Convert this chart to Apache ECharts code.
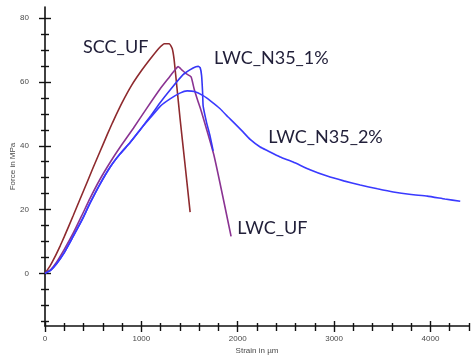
<!DOCTYPE html>
<html>
<head>
<meta charset="utf-8">
<script src="https://cdn.jsdelivr.net/npm/echarts@6/dist/echarts.min.js"></script>
<style>
  html, body { margin: 0; padding: 0; background: #fff; }
  #chart { width: 472px; height: 358px; }
</style>
</head>
<body>
<div id="chart"></div>
<script>
// Force-strain curves, [strain in µm, force in MPa]
const sccUF = [
  [0, 0], [50, 2.2], [100, 5], [160, 8.8], [200, 11.5], [291, 18], [360, 23],
  [436, 28.5], [500, 33.2], [571, 38.2], [650, 43.8], [700, 47.2], [800, 53.5],
  [900, 59], [1000, 63.5], [1100, 67.5], [1180, 70.5], [1240, 72], [1290, 72],
  [1320, 70.5], [1340, 67], [1370, 58], [1402, 48.4], [1450, 35], [1506, 19.2]
];
const lwcUF = [
  [0, 0], [60, 1.2], [120, 3.5], [200, 7.5], [291, 12.5], [380, 18], [467, 23.5],
  [571, 29.5], [680, 35], [789, 40], [917, 45.5], [1050, 51.5], [1194, 57.8],
  [1290, 61.5], [1350, 63.8], [1381, 64.8], [1420, 63.8], [1464, 62.6], [1516, 61.6],
  [1547, 57.9], [1589, 53.8], [1620, 51], [1755, 36.8], [1931, 11.6]
];
const lwcN35_1 = [
  [0, 0], [60, 1], [120, 3], [200, 6.5], [291, 11.5], [380, 16.5], [467, 22],
  [571, 28], [680, 33.5], [780, 37.5], [883, 41], [1000, 45.5], [1100, 49.5],
  [1194, 53.5], [1298, 57.5], [1433, 62.3], [1537, 64.4], [1590, 64.9], [1610, 64.5],
  [1625, 62], [1635, 57], [1641, 52.5], [1675, 47.5], [1713, 43], [1745, 38.4]
];
const lwcN35_2 = [
  [0, 0], [60, 1], [120, 3], [200, 6.5], [291, 11.5], [380, 16.5], [467, 22],
  [571, 28], [680, 33.5], [780, 37.5], [883, 41], [1000, 45.5], [1100, 49],
  [1200, 52.5], [1298, 54.7], [1400, 56.5], [1475, 57.2], [1550, 57], [1641, 55.7],
  [1720, 54], [1817, 51.6], [1900, 49], [1952, 47.5], [2050, 44.5], [2129, 42],
  [2233, 39.6], [2305, 38.5], [2440, 36.5], [2575, 34.9], [2750, 32.5], [2928, 30.5],
  [3100, 29], [3271, 27.7], [3450, 26.5], [3614, 25.5], [3800, 24.7], [3967, 24.2],
  [4150, 23.3], [4309, 22.6]
];

// Curve names and where each name is written, [strain, force] of its left edge
const curveNames = ['SCC_UF', 'LWC_UF', 'LWC_N35_1%', 'LWC_N35_2%'];
const nameAnchors = [[395, 70.8], [1994, 14.2], [1755, 67.6], [2316, 42.8]];

// Axis ranges and tick values
const xRange = [0, 4400];
const yRange = [-16.5, 83.5];
const xMajor = [0, 1000, 2000, 3000, 4000];
const xMinor = [200, 400, 600, 800, 1200, 1400, 1600, 1800, 2200, 2400, 2600, 2800,
                3200, 3400, 3600, 3800, 4200, 4400];
const yMajor = [0, 20, 40, 60, 80];
const yMinor = [-15, -10, -5, 5, 10, 15, 25, 30, 35, 45, 50, 55, 65, 70, 75];

const axisColor = '#111';
const tickLabelStyle = { color: '#4a4a4a', fontSize: 8, fontFamily: 'Arial' };
const curveFont = 'Lato';
const curveColors = ['#8e2a2e', '#8a3392', '#3636f5', '#3a3aff'];

function tickAxis(base, values, len, inside, extra) {
  return Object.assign({
    type: 'value', min: base[0], max: base[1],
    splitLine: { show: false },
    axisLine: { show: false, onZero: false },
    axisLabel: { show: false },
    axisTick: { show: true, inside: inside, length: len, customValues: values,
                lineStyle: { color: axisColor, width: 1.4 } }
  }, extra || {});
}

const plainNumber = v => String(v);

const xAxes = [
  {
    type: 'value', min: xRange[0], max: xRange[1], position: 'bottom',
    name: 'Strain in µm', nameLocation: 'middle', nameGap: 21, nameMoveOverlap: false,
    nameTextStyle: { color: '#4a4a4a', fontSize: 8, fontFamily: 'Arial' },
    splitLine: { show: false },
    axisLine: { show: true, onZero: false, lineStyle: { color: axisColor, width: 1.6 } },
    axisTick: { show: true, inside: false, length: 6, customValues: xMajor,
                lineStyle: { color: axisColor, width: 1.4 } },
    axisLabel: Object.assign({ customValues: xMajor, margin: 9, formatter: plainNumber }, tickLabelStyle)
  },
  tickAxis(xRange, xMajor, 5, true, { position: 'bottom' }),
  tickAxis(xRange, xMinor, 5, false, { position: 'bottom' }),
  tickAxis(xRange, xMinor, 3, true, { position: 'bottom' })
];

const yAxes = [
  {
    type: 'value', min: yRange[0], max: yRange[1], position: 'left',
    name: 'Force in MPa', nameLocation: 'middle', nameGap: 28, nameRotate: 90,
    nameMoveOverlap: false,
    nameTextStyle: { color: '#4a4a4a', fontSize: 8, fontFamily: 'Arial' },
    splitLine: { show: false },
    axisLine: { show: true, onZero: false, lineStyle: { color: axisColor, width: 1.6 } },
    axisTick: { show: true, inside: false, length: 6, customValues: yMajor,
                lineStyle: { color: axisColor, width: 1.4 } },
    axisLabel: Object.assign({ customValues: yMajor, margin: 16, formatter: plainNumber }, tickLabelStyle)
  },
  tickAxis(yRange, yMajor, 6, true, { position: 'left' }),
  tickAxis(yRange, yMinor, 4, false, { position: 'left' }),
  tickAxis(yRange, yMinor, 4, true, { position: 'left' })
];

const curveData = [sccUF, lwcUF, lwcN35_1, lwcN35_2];

const chart = echarts.init(document.getElementById('chart'), null, { renderer: 'canvas' });
chart.setOption({
  backgroundColor: '#ffffff',
  animation: false,
  grid: { left: 45, right: 3, top: 7, bottom: 32, containLabel: false, outerBoundsMode: 'none' },
  xAxis: xAxes,
  yAxis: yAxes,
  series: curveNames.map((name, i) => ({
    name: name, type: 'line', data: curveData[i],
    xAxisIndex: 0, yAxisIndex: 0,
    showSymbol: false, smooth: 0.15,
    lineStyle: { color: curveColors[i], width: 1.6 },
    z: 3
  }))
});

// Curve names written next to their curves
chart.setOption({
  graphic: curveNames.map((name, i) => {
    const p = chart.convertToPixel({ xAxisIndex: 0, yAxisIndex: 0 }, nameAnchors[i]);
    return {
      type: 'text', x: p[0], y: p[1], z: 10,
      style: { text: name, fill: '#22203a', font: '18px ' + curveFont,
               textAlign: 'left', textVerticalAlign: 'middle' }
    };
  })
});
</script>
</body>
</html>
